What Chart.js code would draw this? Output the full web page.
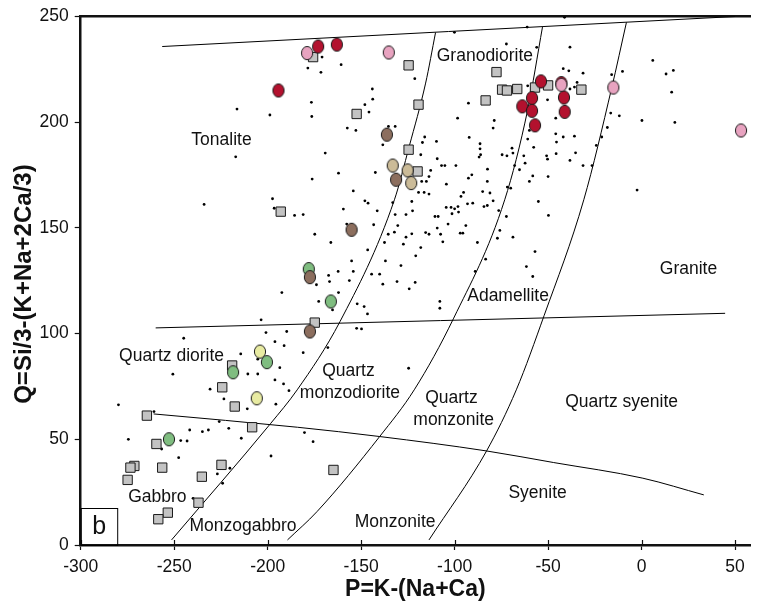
<!DOCTYPE html>
<html>
<head>
<meta charset="utf-8">
<script src="https://cdn.jsdelivr.net/npm/chart.js@4.4.1/dist/chart.umd.min.js"></script>
<style>
  html, body { margin: 0; padding: 0; background: #fff; }
  #wrap { width: 758px; height: 604px; position: relative; }
</style>
</head>
<body>
<div id="wrap"><canvas id="chart"></canvas></div>
<script>
// ---- data: P = K-(Na+Ca), Q = Si/3-(K+Na+2Ca/3) ----
var xTicks = [-300, -250, -200, -150, -100, -50, 0, 50];

var redPts = [[-194.2,215.0],[-173.0,235.8],[-163.0,236.7],[-53.8,219.3],[-58.6,211.4],[-63.8,207.5],
  [-58.6,205.4],[-57.0,198.5],[-42.9,218.5],[-41.5,211.7],[-41.1,204.9]];
var pinkPts = [[-178.9,232.7],[-135.2,233.0],[-42.9,217.7],[-15.1,216.4],[53.2,196.1]];
var brownPts = [[-136.2,194.1],[-131.3,172.8],[-155.1,149.1],[-177.4,126.7],[-177.4,101.0]];
var tanPts = [[-133.1,179.5],[-125.1,177.2],[-123.2,171.2]];
var greenPts = [[-178.0,130.5],[-166.2,115.2],[-200.4,86.5],[-218.5,81.7],[-252.8,50.0]];
var yellowPts = [[-204.1,91.5],[-205.8,69.4]];
var grayPts = [[-175.7,230.8],[-124.6,226.9],[-119.3,208.3],[-152.4,203.9],[-124.6,187.0],[-119.8,176.7],
  [-77.6,223.7],[-74.6,215.4],[-72.0,215.0],[-66.5,215.7],[-57.0,216.4],[-50.0,217.4],[-83.4,210.3],
  [-32.2,215.4],[-193.0,157.7],[-174.8,105.2],[-219.0,84.9],[-224.3,74.6],[-217.6,65.5],[-208.3,55.7],
  [-264.6,61.2],[-259.5,47.8],[-271.3,37.4],[-273.4,36.6],[-256.4,36.6],[-274.9,30.8],[-224.7,37.9],
  [-235.2,32.3],[-237.0,20.0],[-253.4,15.3],[-258.5,12.2],[-164.8,35.5]];

var dotPts = [
  [-178.5,225.6],[-216.4,206.2],[-198.8,203.4],[-176.6,209.4],[-176.4,202.7],[-217.1,183.6],[-176.2,173.1],[-197.4,163.8],
  [-61.2,245.0],[-100.1,242.5],[-72.3,237.0],[-56.1,235.4],[-170.9,230.8],[-160.7,227.2],[-171.5,223.6],[-121.3,220.6],
  [-144.0,215.7],[-143.8,210.9],[-148.0,208.3],[-145.8,204.8],[-92.6,209.0],[-60.9,217.2],[-57.7,213.3],[-98.4,201.9],
  [-78.8,200.8],[-79.4,197.2],[-157.4,197.2],[-152.8,196.1],[-135.4,198.0],[-131.8,198.0],[-138.4,189.3],[-169.2,185.4],
  [-60.0,196.1],[-60.9,192.0],[-57.7,188.1],[-92.2,192.8],[-116.0,193.0],[-117.2,190.4],[-109.7,190.9],[-118.1,184.6],
  [-86.4,189.8],[-86.4,187.4],[-86.1,184.6],[-86.9,183.5],[-74.6,184.6],[-72.0,184.1],[-69.3,187.7],[-68.8,185.4],
  [-63.0,184.1],[-50.8,184.1],[-109.3,182.7],[-107.0,179.5],[-105.2,179.5],[-99.3,179.5],[-112.8,177.2],[-113.7,174.3],
  [-117.6,172.0],[-115.1,172.0],[-90.8,175.1],[-92.6,173.5],[-82.4,177.8],[-82.5,172.0],[-67.9,179.5],[-65.3,177.5],
  [-62.3,180.6],[-58.2,174.6],[-60.0,172.0],[-50.0,174.3],[-162.1,175.9],[-142.4,176.2],[-104.4,170.7],[-71.8,169.3],
  [-70.0,168.8],[-154.2,167.5],[-119.3,166.8],[-116.3,166.8],[-113.7,166.0],[-95.2,166.8],[-96.6,164.9],[-85.0,167.2],
  [-81.1,166.5],
  [-41.2,249.6],[-38.3,235.5],[6.0,229.2],[13.1,222.8],[17.0,224.5],[16.1,214.2],[-10.2,224.0],[-16.0,222.5],
  [-41.9,225.3],[-38.9,224.3],[-31.3,223.2],[-34.5,218.8],[-35.9,216.6],[-38.3,215.7],[-50.3,210.6],[-16.5,204.3],
  [-11.9,203.0],[0.2,200.8],[17.8,199.9],[-45.9,201.9],[-18.3,197.5],[-21.3,193.0],[-24.2,189.0],[-45.9,194.5],
  [-45.5,190.6],[-41.9,193.0],[-35.9,193.4],[-45.7,185.1],[-50.3,182.5],[-38.3,181.9],[-35.3,185.5],[-31.3,179.5],
  [-26.5,179.5],[-2.4,167.9],
  [-234.0,161.1],[-196.5,159.3],[-185.6,155.9],[-181.0,156.3],[-174.8,147.0],[-173.9,123.1],[-192.4,119.4],[-203.5,106.5],
  [-200.9,100.5],[-189.8,101.0],[-244.9,97.8],[-196.1,96.2],[-191.2,94.3],[-181.0,91.0],[-214.4,90.4],[-205.3,87.9],
  [-250.7,80.8],[-210.6,80.9],[-205.3,80.9],[-193.5,83.9],[-196.1,78.1],[-191.5,76.2],[-188.6,73.0],[-230.8,73.7],
  [-223.4,69.1],
  [-159.5,158.9],[-148.0,162.8],[-146.3,161.7],[-141.4,158.1],[-133.1,162.0],[-131.8,156.3],[-126.0,156.3],[-122.5,158.1],
  [-122.9,162.5],[-110.5,155.4],[-108.8,155.4],[-104.5,159.7],[-101.9,159.7],[-100.0,159.0],[-98.2,160.1],[-101.4,156.7],
  [-97.9,157.5],[-93.1,161.4],[-90.3,161.7],[-84.3,160.1],[-82.5,160.6],[-79.4,162.8],[-76.4,158.2],[-72.3,155.4],
  [-55.2,162.5],[-49.8,155.9],[-157.7,151.8],[-143.3,151.5],[-130.4,151.1],[-166.2,143.1],[-135.5,147.0],[-132.2,148.0],
  [-137.5,143.1],[-126.0,145.6],[-127.4,142.3],[-122.9,147.2],[-115.5,147.8],[-113.7,147.0],[-109.3,149.9],[-107.5,147.0],
  [-103.5,151.8],[-94.0,151.1],[-97.0,147.5],[-95.6,147.5],[-106.3,143.4],[-87.8,143.1],[-75.8,148.8],[-77.1,145.1],
  [-68.8,145.6],[-57.0,138.8],[-146.5,139.6],[-118.1,140.7],[-120.8,136.8],[-155.1,134.4],[-137.0,134.4],[-128.7,132.2],
  [-83.4,135.2],[-61.6,131.7],[-58.2,127.0],[-89.0,129.4],[-162.3,129.4],[-154.2,129.4],[-167.4,127.5],[-166.9,124.6],
  [-156.3,125.1],[-144.4,128.1],[-140.1,128.1],[-138.4,123.4],[-130.8,124.6],[-124.3,121.2],[-121.1,124.2],[-162.1,119.4],
  [-172.7,115.2],[-165.3,111.2],[-152.1,114.1],[-148.4,112.8],[-146.6,109.3],[-107.9,115.2],[-107.9,112.0],[-152.4,102.5],
  [-149.8,102.2],[-167.8,93.4],[-124.6,83.6],
  [-279.8,66.3],[-210.9,64.4],[-195.6,66.6],[-260.8,63.1],[-225.9,58.4],[-220.8,55.2],[-241.7,54.4],[-234.9,53.6],
  [-231.7,54.4],[-274.5,50.0],[-246.5,49.4],[-243.1,49.2],[-214.1,50.5],[-256.7,45.4],[-247.6,41.3],[-220.2,36.3],
  [-226.9,33.6],[-224.1,29.2],[-198.2,42.1],[-180.3,53.2],[-175.7,48.9],[-239.9,22.1]
];

// field boundaries
var topLine = [[-256.4,235.8],[50,250]];
var midLine = [[-259.9,102.7],[44.7,109.6]];
var lowLine = [[-261,62],[-184,55.7],[-140,51.3],[-83,44.5],[-47,39],[0.7,31.6],[33.3,23.7]];
var curveA = [[-251.4,2.4],[-198.3,57.6],[-184.2,73.4],[-161.3,105.7],[-132.2,163.3],[-124.3,188.5],[-115.5,218.5],[-110.2,242.4]];
var curveB = [[-189.4,2.4],[-173.6,15.8],[-140.1,51.3],[-121.6,73.4],[-100.5,107.3],[-73.2,163.3],[-60.9,205.9],[-53,245.0]];
var curveC = [[-113.7,2.4],[-82.9,44.5],[-67,73.4],[-52.1,108.6],[-30.9,163.3],[-16,216.1],[-8.1,247.2]];

// field names
var fieldNames = ['Granodiorite', 'Tonalite', 'Granite', 'Adamellite', 'Quartz diorite', 'Quartz', 'monzodiorite',
  'Quartz', 'monzonite', 'Quartz syenite', 'Syenite', 'Monzonite', 'Gabbro', 'Monzogabbro'];
var fieldX = [-83.8, -224.7, 25.1, -71.4, -251.4, -156.8, -156.0, -101.7, -100.5, -10.7, -55.6, -131.8, -259.0, -213.2];
var fieldY = [231.4, 191.4, 130.6, 117.5, 89.1, 82.0, 71.8, 69.4, 59.2, 67.4, 24.5, 10.6, 22.6, 8.7];

var FONT = '"Liberation Sans", Arial, Helvetica, sans-serif';

function xy(list) {
  return list.map(function(p) { return {x: p[0], y: p[1]}; });
}

function ellipseMarker(fill) {
  var c = document.createElement('canvas');
  c.width = 14; c.height = 16;
  var g = c.getContext('2d');
  g.beginPath();
  g.ellipse(7, 8, 5.6, 6.6, 0, 0, Math.PI * 2);
  g.fillStyle = fill;
  g.fill();
  g.lineWidth = 1;
  g.strokeStyle = '#1a1a1a';
  g.stroke();
  return c;
}

function circles(list, fill) {
  return { data: xy(list), pointStyle: ellipseMarker(fill), pointRadius: 7, showLine: false };
}

function boundary(list, smooth) {
  return {
    type: 'line', data: xy(list), showLine: true, pointRadius: 0, fill: false,
    borderColor: '#000', borderWidth: 1,
    cubicInterpolationMode: smooth ? 'monotone' : 'default', tension: 0
  };
}

var overlay = {
  id: 'overlay',
  afterDraw: function(chart) {
    var ctx = chart.ctx, a = chart.chartArea, sx = chart.scales.x, sy = chart.scales.y;
    ctx.save();
    // inner half of the x ticks
    ctx.strokeStyle = '#111';
    ctx.lineWidth = 1.2;
    xTicks.forEach(function(v) {
      var px = Math.round(sx.getPixelForValue(v)) + 0.5;
      ctx.beginPath();
      ctx.moveTo(px, a.bottom);
      ctx.lineTo(px, a.bottom - 5);
      ctx.stroke();
    });
    // field names
    ctx.fillStyle = '#111';
    ctx.textAlign = 'center';
    ctx.textBaseline = 'middle';
    ctx.font = '17.5px ' + FONT;
    fieldNames.forEach(function(t, i) {
      ctx.fillText(t, sx.getPixelForValue(fieldX[i]), sy.getPixelForValue(fieldY[i]));
    });
    // panel letter
    ctx.lineWidth = 1;
    ctx.strokeStyle = '#000';
    ctx.strokeRect(a.left + 0.5, a.bottom - 37 + 0.5, 36.5, 37);
    ctx.font = '25px ' + FONT;
    ctx.fillText('b', a.left + 18.5, a.bottom - 18);
    ctx.restore();
  }
};

new Chart(document.getElementById('chart'), {
  type: 'scatter',
  data: {
    datasets: [
      circles(pinkPts, '#e8a3c0'),
      circles(redPts, '#b3112e'),
      circles(brownPts, '#8c6e5e'),
      circles(tanPts, '#cbbb98'),
      circles(greenPts, '#7fbd80'),
      circles(yellowPts, '#e8eba2'),
      { data: xy(grayPts), pointStyle: 'rect', pointRadius: 6.6, backgroundColor: '#c3c3c3',
        borderColor: '#1a1a1a', borderWidth: 1 },
      { data: xy(dotPts), pointRadius: 1.4, backgroundColor: '#000', borderWidth: 0 },
      boundary(topLine, false),
      boundary(midLine, false),
      boundary(lowLine, true),
      boundary(curveA, true),
      boundary(curveB, true),
      boundary(curveC, true)
    ]
  },
  options: {
    animation: false,
    responsive: true,
    maintainAspectRatio: false,
    events: [],
    layout: { padding: { top: 16, right: 0, left: 0, bottom: 0 } },
    plugins: { legend: { display: false }, tooltip: { enabled: false } },
    scales: {
      x: {
        type: 'linear', position: 'bottom', min: -300, max: 58,
        afterFit: function(s) { s.height = 59; },
        ticks: { stepSize: 50, includeBounds: false, padding: 7, color: '#111',
          font: { family: FONT, size: 17.5 } },
        grid: { drawOnChartArea: false, tickLength: 5, tickWidth: 1.2, tickColor: '#111' },
        border: { color: '#111', width: 2.5 },
        title: { display: true, text: 'P=K-(Na+Ca)', color: '#111',
          font: { family: FONT, size: 23, weight: 'bold' }, padding: { top: 0, bottom: 1 } }
      },
      xTop: {
        type: 'linear', position: 'top', min: -300, max: 58,
        afterFit: function(s) { s.height = 0; },
        ticks: { display: false },
        grid: { display: false },
        border: { color: '#111', width: 2.5 }
      },
      y: {
        type: 'linear', position: 'left', min: 0, max: 250,
        afterFit: function(s) { s.width = 80.7; },
        ticks: { stepSize: 50, padding: 6, color: '#111', font: { family: FONT, size: 17.5 } },
        grid: { drawOnChartArea: false, tickLength: 6, tickWidth: 1.2, tickColor: '#111' },
        border: { color: '#111', width: 2.5 },
        title: { display: true, text: 'Q=Si/3-(K+Na+2Ca/3) ', color: '#111',
          font: { family: FONT, size: 24, weight: 'bold' }, padding: { top: 10, bottom: 0 } }
      }
    }
  },
  plugins: [overlay]
});
</script>
</body>
</html>
